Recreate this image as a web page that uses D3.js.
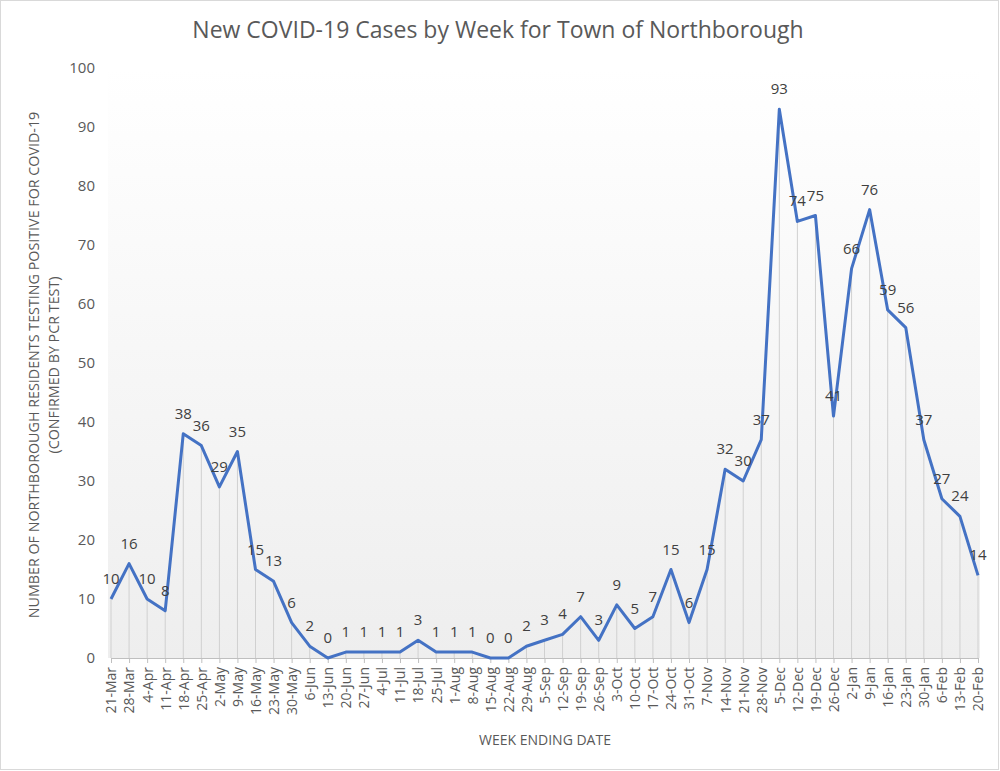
<!DOCTYPE html>
<html><head><meta charset="utf-8">
<script src="https://cdn.jsdelivr.net/npm/d3@7"></script>
<style>body{margin:0;background:#fff}svg{display:block}</style>
</head><body>
<svg id="c" width="1000" height="771"></svg>
<script>
const weeks = ["21-Mar","28-Mar","4-Apr","11-Apr","18-Apr","25-Apr","2-May","9-May","16-May","23-May","30-May","6-Jun","13-Jun","20-Jun","27-Jun","4-Jul","11-Jul","18-Jul","25-Jul","1-Aug","8-Aug","15-Aug","22-Aug","29-Aug","5-Sep","12-Sep","19-Sep","26-Sep","3-Oct","10-Oct","17-Oct","24-Oct","31-Oct","7-Nov","14-Nov","21-Nov","28-Nov","5-Dec","12-Dec","19-Dec","26-Dec","2-Jan","9-Jan","16-Jan","23-Jan","30-Jan","6-Feb","13-Feb","20-Feb"];
const cases = [10,16,10,8,38,36,29,35,15,13,6,2,0,1,1,1,1,3,1,1,1,0,0,2,3,4,7,3,9,5,7,15,6,15,32,30,37,93,74,75,41,66,76,59,56,37,27,24,14];
const yTicks = [0,10,20,30,40,50,60,70,80,90,100];
const title = "New COVID-19 Cases by Week for Town of Northborough";
const yTitle1 = "NUMBER OF NORTHBOROUGH RESIDENTS TESTING POSITIVE FOR COVID-19";
const yTitle2 = "(CONFIRMED BY PCR TEST)";
const xTitle = "WEEK ENDING DATE";

const font = "'Open Sans', 'Liberation Sans', sans-serif";
const svg = d3.select("#c");
const L = 111, R = 978, T = 68, B = 658;

// chart border
svg.append("rect").attr("x",0.5).attr("y",0.5).attr("width",998).attr("height",769)
  .attr("fill","#fff").attr("stroke","#d9d9d9");

const defs = svg.append("defs");
const g1 = defs.append("linearGradient").attr("id","bg").attr("x1",0).attr("y1",0).attr("x2",0).attr("y2",1);
g1.append("stop").attr("offset","0%").attr("stop-color","#ffffff");
g1.append("stop").attr("offset","100%").attr("stop-color","#eeeeee");

svg.append("rect").attr("x",L-3).attr("y",T).attr("width",R-L+5).attr("height",B-T).attr("fill","url(#bg)");

const x = d3.scalePoint().domain(weeks).range([L, R]);
const y = d3.scaleLinear().domain([0,100]).range([B, T]);

// drop lines
svg.append("g").selectAll("line").data(weeks).join("line")
  .attr("x1",d=>x(d)).attr("x2",d=>x(d))
  .attr("y1",(d,i)=>y(cases[i])).attr("y2",B)
  .attr("stroke","#d0d0d0").attr("stroke-width",1);

// x axis
const xa = svg.append("g").attr("transform",`translate(0,${B})`)
  .call(d3.axisBottom(x).tickSize(5).tickSizeOuter(0));
xa.select(".domain").attr("stroke","#bfbfbf");
xa.selectAll(".tick line").attr("stroke","#bfbfbf");
xa.selectAll(".tick text")
  .attr("transform","rotate(-90)")
  .attr("x",-9).attr("y",0).attr("dy","0.35em")
  .attr("text-anchor","end")
  .attr("fill","#595959").attr("font-size",14).attr("font-family",font);

// y axis
const ya = svg.append("g").attr("transform",`translate(${L-14},0)`)
  .call(d3.axisLeft(y).tickValues(yTicks).tickSize(0));
ya.select(".domain").remove();
ya.selectAll(".tick text").attr("fill","#595959").attr("font-size",15).attr("font-family",font).attr("x",-2);

// line
svg.append("path").datum(cases)
  .attr("fill","none").attr("stroke","#4472c4").attr("stroke-width",3).attr("stroke-linejoin","round")
  .attr("d", d3.line().x((d,i)=>x(weeks[i])).y(d=>y(d)));

// data labels
svg.append("g").selectAll("text").data(cases).join("text")
  .attr("x",(d,i)=>x(weeks[i])).attr("y",d=>y(d)-15)
  .attr("text-anchor","middle").attr("fill","#404040")
  .attr("font-size",15).attr("font-family",font).text(d=>d);

// titles
svg.append("text").attr("x",498).attr("y",38).attr("text-anchor","middle")
  .attr("fill","#595959").attr("font-size",23).attr("font-family",font).text(title);

svg.append("text").attr("transform","translate(39,365) rotate(-90)").attr("text-anchor","middle")
  .attr("fill","#595959").attr("font-size",14.3).attr("font-family",font).text(yTitle1);
svg.append("text").attr("transform","translate(59,365) rotate(-90)").attr("text-anchor","middle")
  .attr("fill","#595959").attr("font-size",14.3).attr("font-family",font).text(yTitle2);

svg.append("text").attr("x",545).attr("y",745).attr("text-anchor","middle")
  .attr("fill","#595959").attr("font-size",14).attr("font-family",font).text(xTitle);
</script>
</body></html>
